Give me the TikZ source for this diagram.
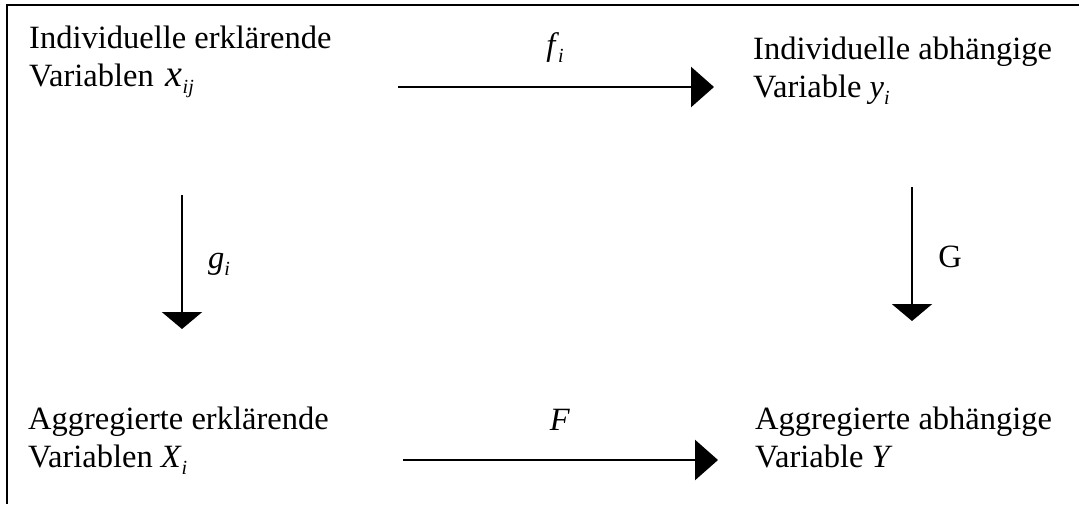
\documentclass[tikz,border=0pt]{standalone}
\usepackage{fontspec}
\setmainfont{Liberation Serif}
\usetikzlibrary{arrows.meta}
\newcommand{\sbi}[1]{\raisebox{-0.22em}{\fontsize{20}{20}\selectfont\itshape #1}}
\tikzset{
  lbl/.style={anchor=base west, inner sep=0pt, align=left, font=\fontsize{32.5}{38}\selectfont},
  mlbl/.style={inner sep=0pt, font=\fontsize{32.5}{38}\selectfont},
  harr/.style={line width=2.6pt, -{Triangle[length=23pt,width=40pt]}},
  varr/.style={line width=2.6pt, -{Triangle[length=17pt,width=40pt]}},
  frame/.style={line width=2.6pt}
}
\begin{document}
\begin{tikzpicture}[x=1pt,y=-1pt]
\useasboundingbox (0,0) rectangle (1079,504);
\draw[frame] (1079,5) -- (7,5) -- (7,504);
\node[lbl] (tl) at (29,86) {Individuelle erklärende\\Variablen\hspace{4pt} {\fontsize{38}{38}\selectfont\itshape x}\sbi{ij}};
\node[lbl] (tr) at (753,97) {Individuelle abhängige\\Variable \textit{y}\sbi{i}};
\node[lbl] (bl) at (28,467) {Aggregierte erklärende\\Variablen \textit{X}\sbi{i}};
\node[lbl] (br) at (755,467) {Aggregierte abhängige\\Variable \textit{Y}};
\coordinate (a1s) at (398,87);
\coordinate (a1e) at (714,87);
\coordinate (a2s) at (403,460);
\coordinate (a2e) at (718,460);
\coordinate (a3s) at (182,195);
\coordinate (a3e) at (182,329);
\coordinate (a4s) at (912,187);
\coordinate (a4e) at (912,321);
\draw[harr] (a1s) -- (a1e);
\draw[harr] (a2s) -- (a2e);
\draw[varr] (a3s) -- (a3e);
\draw[varr] (a4s) -- (a4e);
\node[mlbl, anchor=base] (fl) at (555,55) {\textit{f}\kern-1pt\sbi{i}};
\node[mlbl, anchor=base] (Fl) at (560,430) {\textit{F}};
\node[mlbl, anchor=base] (gl) at (219,268) {\textit{g}\sbi{i}};
\node[mlbl, anchor=base] (Gl) at (950,267) {G};
\end{tikzpicture}
\end{document}
